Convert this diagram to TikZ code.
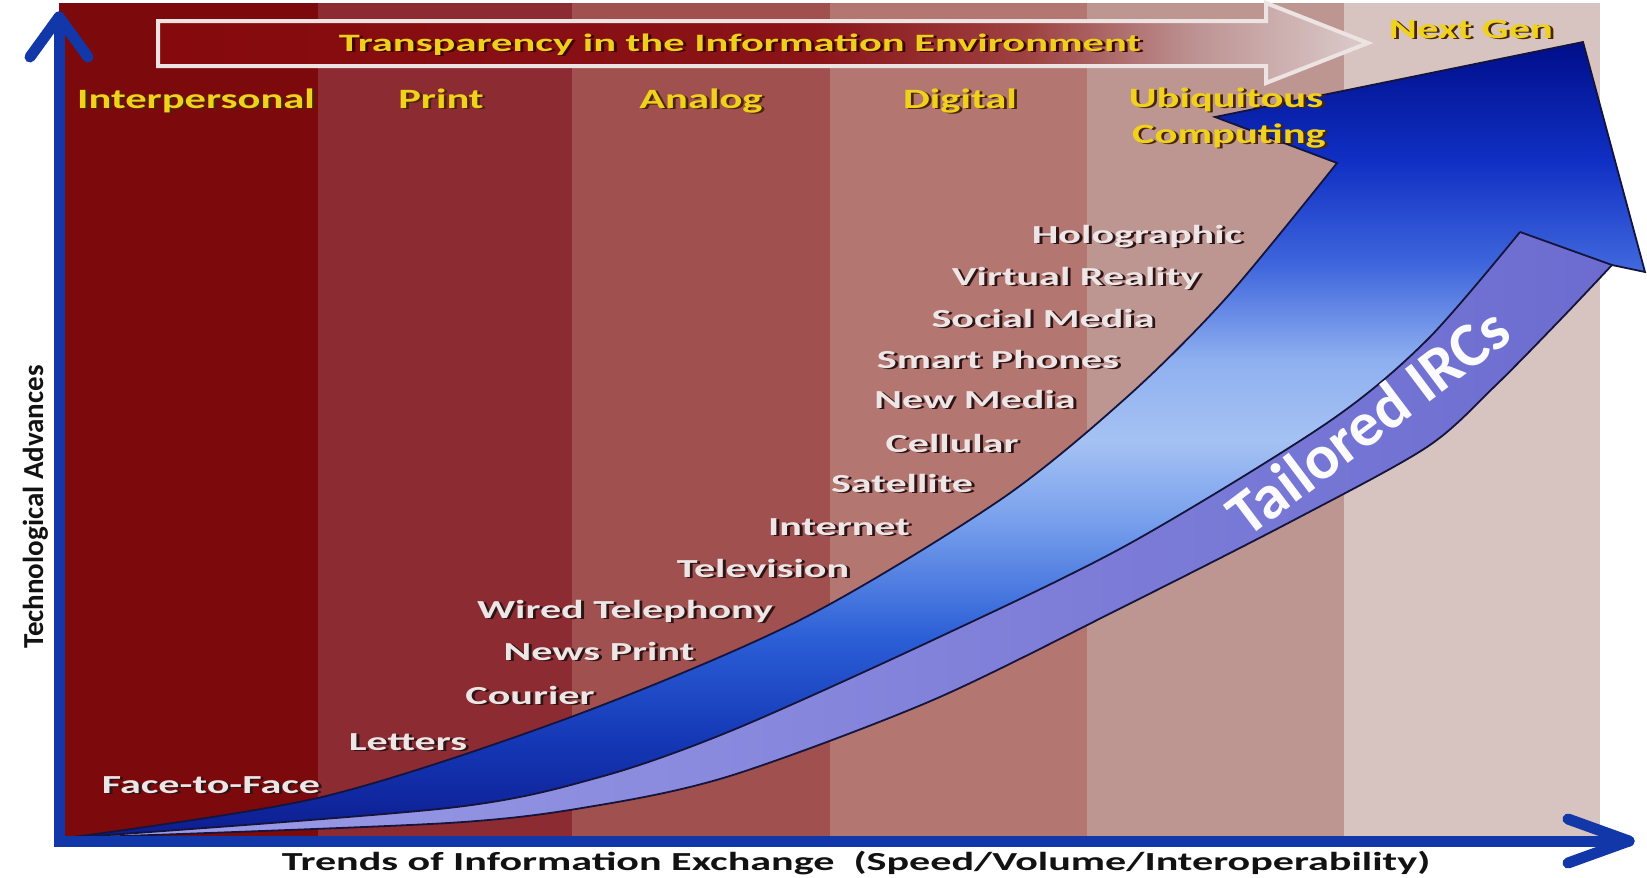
\documentclass[tikz,border=0pt]{standalone}
\usepackage{fontspec}
\setmainfont{Carlito}
\usepackage{graphicx}

% era bands, light to dark
\definecolor{bandA}{HTML}{7C090C}
\definecolor{bandB}{HTML}{8C2B31}
\definecolor{bandC}{HTML}{A0504E}
\definecolor{bandD}{HTML}{B47670}
\definecolor{bandE}{HTML}{BE9691}
\definecolor{bandF}{HTML}{D7C3C0}
% text colours
\definecolor{hdrcol}{HTML}{F0D21C}
\definecolor{hdrsh}{HTML}{4A2600}
\definecolor{itemcol}{HTML}{EEE6E6}
\definecolor{itemsh}{HTML}{2E1414}
\definecolor{trcol}{HTML}{EFCF1E}
\definecolor{trsh}{HTML}{3E0600}
% axes and ribbon
\definecolor{axiscol}{HTML}{1237A8}
\definecolor{edgecol}{HTML}{14143C}
\definecolor{lavL}{HTML}{9E9EE8}
\definecolor{lavR}{HTML}{6C6CD0}
\definecolor{blA}{HTML}{0D1C8F}
\definecolor{blB}{HTML}{1437B5}
\definecolor{blC}{HTML}{2B5ED6}
\definecolor{blD}{HTML}{78A0EC}
\definecolor{blE}{HTML}{A5C2F3}
\definecolor{blF}{HTML}{8FB0F0}
\definecolor{blG}{HTML}{3F66DC}
\definecolor{blH}{HTML}{1030C4}
\definecolor{blI}{HTML}{000E8A}
\definecolor{trA}{HTML}{85090D}
\definecolor{trB}{HTML}{8A1418}
\definecolor{trC}{HTML}{9E4242}
\definecolor{trD}{HTML}{BE9494}
\definecolor{trE}{HTML}{DCCCCC}
\definecolor{tredge}{HTML}{EDE3E3}

% ribbon face: dark at both ends, pale in the middle of the bend
\pgfdeclareverticalshading{bluearrow}{100bp}{%
  color(0bp)=(blA); color(25bp)=(blA); color(31bp)=(blB); color(37.5bp)=(blC);
  color(45bp)=(blD); color(50bp)=(blE); color(55bp)=(blF); color(61bp)=(blG);
  color(67.5bp)=(blH); color(75bp)=(blI); color(100bp)=(blI)}
% banner arrow: deep red fading out towards the head
\pgfdeclarehorizontalshading{transp}{100bp}{%
  color(0bp)=(trA); color(25bp)=(trA); color(52bp)=(trB); color(61bp)=(trC);
  color(68bp)=(trD); color(75bp)=(trE); color(100bp)=(trE)}

% text with a drop shadow
\newcommand\shd[3]{\makebox[0pt][l]{\kern1.8pt\raisebox{-1.8pt}{\textcolor{#2}{#3}}}\textcolor{#1}{#3}}
\newcommand\hdrlabel[1]{\scalebox{1.52}[1]{\shd{hdrcol}{hdrsh}{#1}}}
\newcommand\itemlabel[1]{\scalebox{1.62}[1]{\shd{itemcol}{itemsh}{#1}}}

\begin{document}
\begin{tikzpicture}[x=1pt,y=-1pt,
  hdr/.style={anchor=base, inner sep=0pt, font=\fontsize{28}{34}\selectfont\bfseries},
  item/.style={anchor=base, inner sep=0pt, font=\fontsize{26}{31}\selectfont\bfseries},
  axislabel/.style={anchor=base, inner sep=0pt, text=black!93},
  axisline/.style={draw=axiscol, line width=11pt, line cap=round, line join=miter},
  ribbonedge/.style={draw=edgecol, line width=1.8pt, line join=miter},
  banner/.style={draw=tredge, line width=4pt, line join=miter}]

\useasboundingbox (0,0) rectangle (1647,878);
\fill[white] (0,0) rectangle (1647,878);

% era bands
\fill[bandA] (59,3) rectangle (318,838);
\fill[bandB] (318,3) rectangle (572,838);
\fill[bandC] (572,3) rectangle (830,838);
\fill[bandD] (830,3) rectangle (1087,838);
\fill[bandE] (1087,3) rectangle (1344,838);
\fill[bandF] (1344,3) rectangle (1600,838);

% banner arrow
\shade[shading=transp] (158,21) -- (1266,21) -- (1266,3) -- (1368,43) -- (1266,83) -- (1266,66) -- (158,66) -- cycle;
\draw[banner] (158,21) -- (1266,21) -- (1266,3) -- (1368,43) -- (1266,83) -- (1266,66) -- (158,66) -- cycle;

% key points of the curved ribbon arrow
\coordinate (O) at (66,838);
\coordinate (P0) at (1337,163);
\coordinate (B1) at (1215,117);
\coordinate (T) at (1583,42);
\coordinate (B2) at (1645,272);
\coordinate (P2) at (1612,265);
\coordinate (P1) at (1520,232);

% ribbon side
\shade[left color=lavL, right color=lavR]
  plot[smooth] coordinates {(O) (448,808) (600,777) (733,730) (933,640) (1127,545) (1327,423) (1427,340) (P1)}
  -- (P2)
  -- plot[smooth] coordinates {(P2) (1560,320) (1494,387) (1427,447) (1294,520) (1127,605) (933,700) (733,775) (600,805) (448,823) (O)}
  -- cycle;
% ribbon face and head
\shade[shading=bluearrow]
  plot[smooth] coordinates {(O) (322,797) (571,717) (800,620) (1000,500) (1127,397) (1227,297) (P0)}
  -- (B1) -- (T) -- (B2) -- (P2) -- (P1)
  -- plot[smooth] coordinates {(P1) (1427,340) (1327,423) (1127,545) (933,640) (733,730) (600,777) (448,808) (O)}
  -- cycle;
% ribbon outlines
\draw[ribbonedge]
  plot[smooth] coordinates {(O) (322,797) (571,717) (800,620) (1000,500) (1127,397) (1227,297) (P0)}
  -- (B1) -- (T) -- (B2) -- (P2) -- (P1);
\draw[ribbonedge]
  plot[smooth] coordinates {(O) (448,808) (600,777) (733,730) (933,640) (1127,545) (1327,423) (1427,340) (P1)};
\draw[ribbonedge]
  plot[smooth] coordinates {(O) (448,823) (600,805) (733,775) (933,700) (1127,605) (1294,520) (1427,447) (1494,387) (1560,320) (P2)};

\node[rotate=37, inner sep=0pt, text=white!96!lavL, font=\fontsize{63}{68}\selectfont\bfseries] (tirc) at (1368,421)
  {Tailored IRCs};

% banner text
\node[anchor=base, inner sep=0pt, font=\fontsize{25}{30}\selectfont\bfseries] (banner) at (740,51)
  {\scalebox{1.7}[1]{\shd{trcol}{trsh}{Transparency in the Information Environment}}};

% era headings
\node[hdr] (interp) at (196,108) {\hdrlabel{Interpersonal}};
\node[hdr] (print) at (441,108) {\hdrlabel{Print}};
\node[hdr] (analog) at (701,108) {\hdrlabel{Analog}};
\node[hdr] (digital) at (960,108) {\hdrlabel{Digital}};
\node[hdr] (ubiq) at (1226,107) {\hdrlabel{Ubiquitous}};
\node[hdr] (comp) at (1229,143) {\hdrlabel{Computing}};
\node[hdr] (nextgen) at (1471,38) {\hdrlabel{Next Gen}};

% technologies
\node[item] (f2f) at (211,793) {\itemlabel{Face-to-Face}};
\node[item] (letters) at (408,750) {\itemlabel{Letters}};
\node[item] (courier) at (530,704) {\itemlabel{Courier}};
\node[item] (news) at (599,660) {\itemlabel{News Print}};
\node[item] (wired) at (625,618) {\itemlabel{Wired Telephony}};
\node[item] (tv) at (763,577) {\itemlabel{Television}};
\node[item] (internet) at (839,535) {\itemlabel{Internet}};
\node[item] (sat) at (902,492) {\itemlabel{Satellite}};
\node[item] (cell) at (952,452) {\itemlabel{Cellular}};
\node[item] (newmedia) at (975,408) {\itemlabel{New Media}};
\node[item] (smart) at (998,368) {\itemlabel{Smart Phones}};
\node[item] (social) at (1043,327) {\itemlabel{Social Media}};
\node[item] (vr) at (1076,285) {\itemlabel{Virtual Reality}};
\node[item] (holo) at (1137,243) {\itemlabel{Holographic}};

% axes
\coordinate (ytip) at (59,17);
\coordinate (orig) at (59,841);
\coordinate (xtip) at (1629,841);
\draw[axisline] (ytip) -- (orig) -- (xtip);
\draw[axisline, line join=round] (30,57) -- (ytip) -- (88,57);
\draw[axisline, line join=round] (1568,819) -- (xtip) -- (1568,863);

\node[axislabel, rotate=90, font=\fontsize{29}{34}\selectfont\bfseries] (ylabel) at (43,507) {Technological Advances};
\node[axislabel, font=\fontsize{26}{31}\selectfont\bfseries] (xlabel) at (856,870)
  {\scalebox{1.62}[1]{Trends of Information Exchange\ \ (Speed/Volume/Interoperability)}};

\end{tikzpicture}
\end{document}
